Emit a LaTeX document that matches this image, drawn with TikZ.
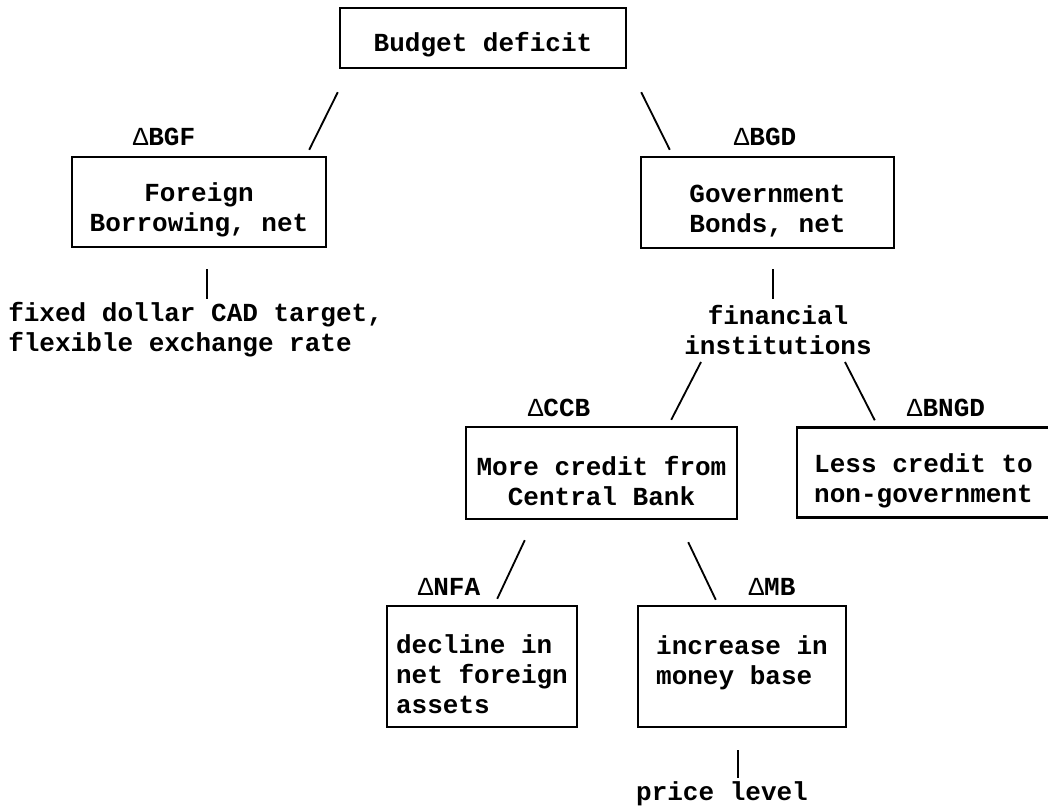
\documentclass[tikz,border=0pt]{standalone}
\usepackage{fontspec}
\setmonofont{Liberation Mono}
\newcommand\lift{\rule{0pt}{1.35em}}
\begin{document}
\begin{tikzpicture}[x=0.025cm,y=-0.025cm,
    every node/.style={font=\ttfamily\bfseries\fontsize{18.5}{21.3}\selectfont},
    bx/.style={draw,line width=1.7pt,inner sep=0pt},
    ln/.style={line width=1.3pt},
    stub/.style={line width=2pt}]
      \useasboundingbox (0,0) rectangle (1048,808);
      \node[bx,minimum width=7.15cm,minimum height=1.5cm] (bd) at (483,38) {\rule{0pt}{1.25em}Budget deficit};
      \node[bx,minimum width=6.35cm,minimum height=2.25cm,align=center] (fb) at (199,202) {\lift Foreign\\Borrowing, net};
      \node[bx,minimum width=6.325cm,minimum height=2.275cm,align=center] (gb) at (767.5,202.5) {\lift Government\\Bonds, net};
      \node[bx,minimum width=6.775cm,minimum height=2.3cm,align=center] (cb) at (601.5,473) {\lift More credit from\\Central Bank};
      \node[bx,minimum width=6.325cm,minimum height=2.25cm,align=center] (ng) at (923.5,472.5) {\lift Less credit to\\non-government};
      \node[bx,minimum width=4.75cm,minimum height=3.025cm,align=left] (nf) at (482,666.5) {\lift decline in\\net foreign\\assets};
      \node[bx,minimum width=5.2cm,minimum height=3.025cm,align=left] (mb) at (742,666.5) {\lift increase in\\money base\\\mbox{}};
      % deltas
      \node (dbgf) at (164,137) {{\mdseries Δ}BGF};
      \node (dbgd) at (765,137) {{\mdseries Δ}BGD};
      \node (dccb) at (559,408) {{\mdseries Δ}CCB};
      \node (dbngd) at (946,408) {{\mdseries Δ}BNGD};
      \node (dnfa) at (449,587) {{\mdseries Δ}NFA};
      \node (dmb) at (772,587) {{\mdseries Δ}MB};
      % free texts
      \node[anchor=west,align=left,inner sep=0pt] (cad) at (8,330) {fixed dollar CAD target,\\flexible exchange rate};
      \node[align=center,inner sep=0pt] (fi) at (778,330) {financial\\institutions};
      \node[inner sep=0pt] (pl) at (722,794) {price level};
      \draw [ln] ([shift={(-1,23)}]bd.south west) -- ([shift={(-18,-6)}]fb.north east);
      \draw [ln] ([shift={(14,23)}]bd.south east) -- ([shift={(30,-6)}]gb.north west);
      \draw [stub] ([shift={(8,21)}]fb.south) -- ++(0,30);
      \draw [stub] ([shift={(5.5,20)}]gb.south) -- ++(0,30);
      \draw [ln] ([shift={(-77,32)}]fi.center) -- ([shift={(-67,-6)}]cb.north east);
      \draw [ln] ([shift={(67,32)}]fi.center) -- ([shift={(79,-6)}]ng.north west);
      \draw [ln] ([shift={(60,20)}]cb.south west) -- ([shift={(-81,-6)}]nf.north east);
      \draw [ln] ([shift={(-50,22)}]cb.south east) -- ([shift={(79,-5)}]mb.north west);
      \draw [stub] ([shift={(-4,22)}]mb.south) -- ++(0,28);
    \end{tikzpicture}
\end{document}
